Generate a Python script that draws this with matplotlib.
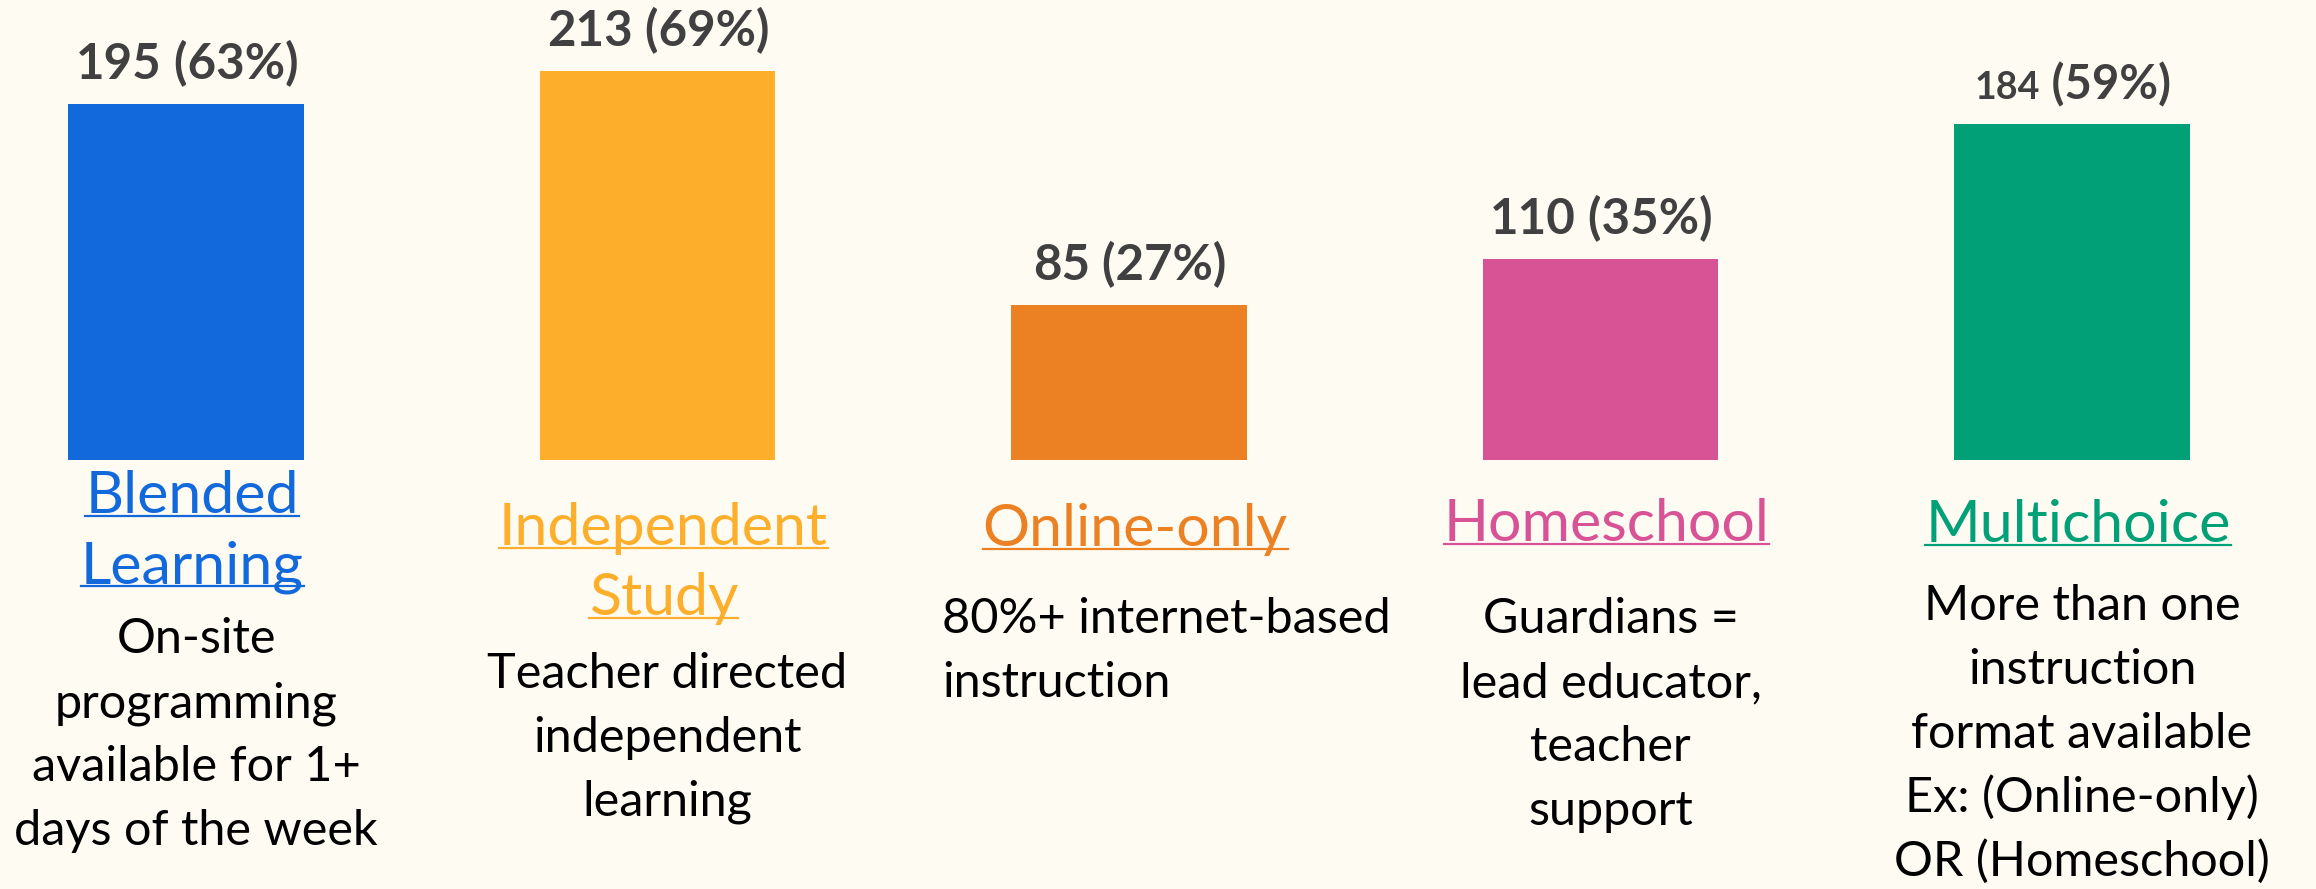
import matplotlib
matplotlib.use("Agg")
import matplotlib.pyplot as plt
import matplotlib.transforms as mtransforms
from matplotlib.lines import Line2D

plt.rcParams['font.family'] = ['Lato', 'DejaVu Sans']

# data
categories = ["Blended\nLearning", "Independent\nStudy", "Online-only", "Homeschool", "Multichoice"]
counts = [195, 213, 85, 110, 184]
percents = [63, 69, 27, 35, 59]
descriptions = [
    "On-site\nprogramming\navailable for 1+\ndays of the week",
    "Teacher directed\nindependent\nlearning",
    "80%+ internet-based\ninstruction",
    "Guardians =\nlead educator,\nteacher\nsupport",
    "More than one\ninstruction\nformat available\nEx: (Online-only)\nOR (Homeschool)",
]
colors = ["#1269DB", "#FDAF2C", "#EB8123", "#D85396", "#02A076"]

# layout (pixels from top of the 2316x889 canvas)
W, H = 2316, 889
bg = "#FEFBF3"
count_sizes = [35.5, 35.5, 35.5, 35.5, 27]
pct_sizes = [35.5, 35.5, 35.5, 35.5, 34]
cat_baselines = [[513, 583], [545, 615], [546], [541], [542]]
desc_first = [653, 688, 633, 633, 620]
desc_step = 64
desc_align = ["center", "center", "left", "center", "center"]
desc_left_px = 942

fig = plt.figure(figsize=(W / 100, H / 100), dpi=100, facecolor=bg)
ax = fig.add_axes([0, 0, 1, 1])
ax.set_facecolor(bg)

xs = list(range(len(categories)))
ax.bar(xs, counts, width=0.5, color=colors)
ax.set_xlim(-0.3945, 4.5175)
ax.set_ylim(-235.0, 252.0)
ax.axis("off")

r = fig.canvas.get_renderer()
xfig = mtransforms.blended_transform_factory(ax.transData, fig.transFigure)


def fy(px):
    return 1 - px / H


# value labels
for i, (c, p) in enumerate(zip(counts, percents)):
    t1 = ax.text(i, c, f"{c}", ha="left", va="baseline", fontsize=count_sizes[i],
                 fontweight="bold", color="#404040")
    t2 = ax.text(i, c, f" ({p}%)", ha="left", va="baseline", fontsize=pct_sizes[i],
                 fontweight="bold", color="#404040")
    w1 = t1.get_window_extent(r).width
    w2 = t2.get_window_extent(r).width
    left = -(w1 + w2) / 2 + 1
    t1.set_transform(mtransforms.offset_copy(ax.transData, fig=fig, x=left, y=25, units="dots"))
    t2.set_transform(mtransforms.offset_copy(ax.transData, fig=fig, x=left + w1, y=25, units="dots"))

# category labels, underlined
for i, cat in enumerate(categories):
    for line, base in zip(cat.split("\n"), cat_baselines[i]):
        tr = mtransforms.offset_copy(xfig, fig=fig, x=6, y=0, units="dots")
        t = ax.text(i, fy(base), line, transform=tr, ha="center", va="baseline",
                    fontsize=42.5, fontweight="normal", color=colors[i])
        bb = t.get_window_extent(r)
        uy = fy(base + 3)
        fig.add_artist(Line2D([bb.x0 / W, bb.x1 / W], [uy, uy], transform=fig.transFigure,
                              color=colors[i], lw=1.6))

# descriptions
for i, desc in enumerate(descriptions):
    for k, line in enumerate(desc.split("\n")):
        y = fy(desc_first[i] + k * desc_step)
        if desc_align[i] == "left":
            fig.text(desc_left_px / W, y, line, ha="left", va="baseline", fontsize=35, color="black")
        else:
            tr = mtransforms.offset_copy(xfig, fig=fig, x=10, y=0, units="dots")
            ax.text(i, y, line, transform=tr, ha="center", va="baseline", fontsize=35, color="black")

fig.savefig("out.png", dpi=100, facecolor=bg)
